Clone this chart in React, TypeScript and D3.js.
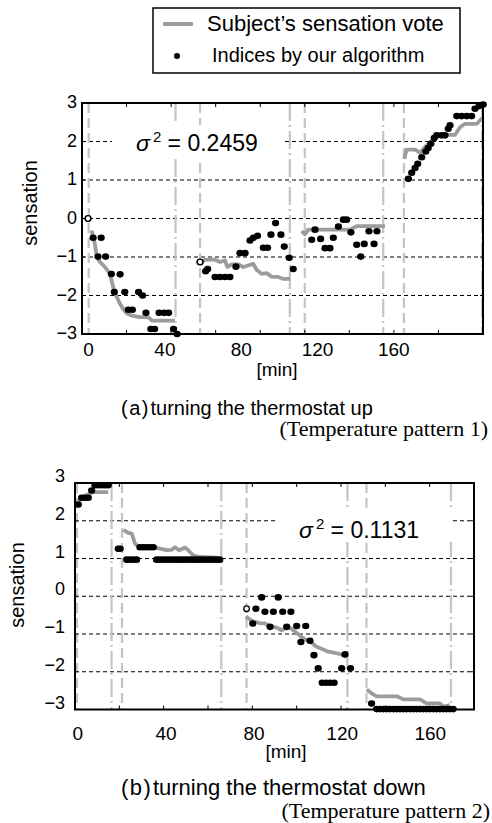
import React from "react";
import * as d3 from "d3";

// ---------- data ----------
const sensationTicks = [-3, -2, -1, 0, 1, 2, 3];
const gridLevels = [-2, -1, 0, 1, 2];
const minuteTicks = [20, 40, 60, 80, 100, 120, 140, 160];
const minuteLabels = [0, 40, 80, 120, 160];

// Chart (a): subject's vote (gray line) per session, [min, sensation]
const aVote1 = [[4.3, -0.31], [5.8, -0.66], [6.6, -1.0], [8.1, -1.13], [10.3, -1.26], [12.6, -1.44], [14.0, -1.78], [15.6, -2.04], [17.1, -2.22], [18.5, -2.35], [20.1, -2.47], [22.3, -2.52], [26.0, -2.56], [29.8, -2.56], [31.3, -2.65], [41.7, -2.65]];
const aVote2 = [[53.7, -1.13], [55.2, -1.07], [59.7, -1.07], [61.9, -1.13], [64.2, -1.09], [65.2, -1.26], [67.2, -1.19], [70.2, -1.19], [72.4, -1.26], [74.6, -1.22], [76.9, -1.18], [78.4, -1.33], [80.7, -1.44], [82.9, -1.42], [85.1, -1.51], [88.1, -1.52], [90.4, -1.57], [93.4, -1.57]];
const aVote3 = [[98.6, -0.33], [100.1, -0.41], [101.6, -0.29], [120.3, -0.29], [123.3, -0.2], [136.0, -0.2]];
const aVote4 = [[144.7, 1.55], [145.7, 1.79], [149.5, 1.79], [151.7, 1.71], [153.9, 1.85], [156.2, 1.98], [158.4, 2.09], [160.7, 2.17], [167.4, 2.17], [169.7, 2.37], [171.9, 2.46], [177.2, 2.46], [179.7, 2.61]];

// Chart (a): indices by our algorithm (dots)
const aIdx1 = [[2.7, 0], [5.0, -0.5], [8.6, -0.5], [7.2, -0.99], [10.6, -0.99], [13.2, -1.44], [17.1, -1.45], [14.5, -1.91], [19.2, -1.91], [25.4, -1.91], [27.2, -2.0], [20.8, -2.37], [22.6, -2.37], [28.7, -2.45], [34.6, -2.45], [36.9, -2.45], [38.9, -2.45], [30.9, -2.87], [32.6, -2.87], [41.1, -2.87], [42.7, -3.0]];
const aIdx2 = [[53.0, -1.13], [55.5, -1.37], [56.4, -1.31], [59.7, -1.52], [61.9, -1.52], [64.2, -1.52], [66.4, -1.52], [69.1, -1.25], [70.9, -0.9], [73.2, -0.9], [75.4, -0.57], [76.9, -0.5], [78.8, -0.45], [81.4, -0.76], [83.3, -0.76], [84.8, -0.42], [86.9, -0.12], [89.3, -0.42], [90.8, -0.73], [93.0, -1.02], [94.8, -1.31]];
const aIdx3 = [[103.1, -0.55], [104.6, -0.29], [107.1, -0.53], [109.1, -0.77], [111.3, -0.77], [112.8, -0.5], [115.1, -0.21], [117.3, -0.03], [118.8, -0.03], [120.7, -0.36], [123.3, -0.68], [125.1, -0.99], [126.7, -0.66], [128.8, -0.33], [132.4, -0.33], [131.1, -0.66]];
const aIdx4 = [[146.5, 1.03], [148.0, 1.19], [149.5, 1.31], [150.7, 1.42], [152.5, 1.59], [154.3, 1.74], [155.4, 1.83], [156.6, 1.94], [158.1, 2.09], [159.2, 2.16], [161.4, 2.16], [162.9, 2.16], [164.4, 2.33], [165.2, 2.42], [168.2, 2.66], [170.4, 2.66], [172.7, 2.66], [174.9, 2.66], [176.4, 2.85], [178.2, 2.92], [180.1, 2.96]];
const aOpen = [[2.7, 0], [53.0, -1.13]];
const aSessionStarts = [3, 53, 100, 144.5];
const aSessionEnds = [42, 93.3, 135.2, 179.6];

// Chart (b)
const bVote1 = [[1.5, 2.49], [3.0, 2.63], [6.8, 2.72], [8.3, 2.76], [15.0, 2.76]];
const bVote2 = [[21.8, 1.76], [24.0, 1.68], [25.6, 1.66], [27.1, 1.39], [28.6, 1.32], [33.1, 1.32], [36.1, 1.29], [38.3, 1.26], [41.4, 1.22], [43.6, 1.23], [45.1, 1.3], [47.0, 1.22], [49.6, 1.29], [51.1, 1.22], [53.4, 1.08], [56.4, 1.04], [63.9, 1.02], [66.2, 0.91]];
const bVote3 = [[77.1, -0.53], [78.9, -0.62], [81.2, -0.68], [83.4, -0.71], [85.7, -0.72], [88.0, -0.79], [91.0, -0.83], [93.2, -0.9], [95.5, -0.83], [97.7, -0.86], [100.0, -0.97], [102.2, -1.08], [104.5, -1.16], [106.8, -1.23], [109.0, -1.34], [112.0, -1.41], [114.3, -1.47], [117.3, -1.5], [119.5, -1.53], [122.2, -1.59]];
const bVote4 = [[131.6, -2.47], [133.8, -2.57], [136.1, -2.65], [145.1, -2.65], [148.1, -2.73], [155.6, -2.73], [158.6, -2.84], [164.6, -2.84], [166.4, -2.93], [169.1, -2.88]];

const bIdx1 = [[1.5, 2.43], [3.0, 2.61], [4.5, 2.61], [6.0, 2.61], [7.5, 2.8], [9.0, 2.94], [10.5, 2.94], [12.0, 2.94], [13.5, 2.94], [15.0, 2.94]];
const bIdx2 = [[20.4, 1.26], [19.5, 1.26], [23.3, 0.97], [24.8, 0.97], [26.3, 0.97], [27.8, 0.97], [29.3, 1.3], [30.8, 1.3], [32.3, 1.3], [33.8, 1.3], [35.3, 1.3], [36.8, 0.97], [38.3, 0.97], [39.8, 0.97], [41.3, 0.97], [42.8, 0.97], [44.3, 0.97], [45.8, 0.97], [47.3, 0.97], [48.8, 0.97], [50.3, 0.97], [51.8, 0.97], [53.3, 0.97], [54.8, 0.97], [56.3, 0.97], [57.8, 0.97], [59.3, 0.97], [60.8, 0.97], [62.3, 0.97], [63.8, 0.97], [65.3, 0.97]];
const bIdx3 = [[81.6, -0.33], [84.2, -0.03], [91.7, -0.03], [80.2, -0.72], [85.7, -0.41], [89.5, -0.41], [93.7, -0.41], [97.4, -0.41], [88.0, -0.81], [95.5, -0.81], [100.0, -0.79], [104.1, -0.79], [101.9, -1.21], [106.0, -1.18], [107.8, -1.56], [109.7, -1.91], [111.5, -2.29], [113.3, -2.29], [115.1, -2.29], [116.9, -2.29], [120.3, -1.91], [121.8, -1.54], [124.3, -1.91]];
const bIdx4 = [[133.8, -2.84], [136.1, -2.99], [137.6, -2.99], [139.1, -2.99], [140.6, -2.99], [142.1, -2.99], [143.6, -2.99], [145.1, -2.99], [146.6, -2.99], [148.1, -2.99], [149.6, -2.99], [151.1, -2.99], [152.6, -2.99], [154.1, -2.99], [155.6, -2.99], [157.1, -2.99], [158.6, -2.99], [160.1, -2.99], [161.6, -2.99], [163.1, -2.99], [164.6, -2.99], [166.1, -2.99], [167.6, -2.99], [169.1, -2.99], [170.6, -2.99]];
const bOpen = [[77.4, -0.33]];
const bSessionStarts = [0.9, 21.2, 77.4, 131.5];
const bSessionEnds = [16.5, 66.0, 122.9, 169.6];

const SANS = "'Liberation Sans', Arial, sans-serif";
const SERIF = "'Liberation Serif', 'Times New Roman', serif";

type Pt = number[];

function Panel(props: {
  x: d3.ScaleLinear<number, number>;
  y: d3.ScaleLinear<number, number>;
  xLabel: d3.ScaleLinear<number, number>;
  votes: Pt[][];
  dots: Pt[][];
  open: Pt[];
  starts: number[];
  ends: number[];
  sigma: string;
  sigmaX: number;
  sigmaY: number;
  box: number[];
  yLabelX: number;
  yLabelDy: number;
  xLabelY: number;
  minY: number;
  minX: number;
  sensX: number;
  sensY: number;
}) {
  const { x, y, xLabel } = props;
  const [x0, x1] = x.range();
  const [yb, yt] = y.range();
  const line = d3
    .line<Pt>()
    .x((d) => x(d[0]))
    .y((d) => y(d[1]));
  return (
    <g>
      {gridLevels.map((g) => (
        <line key={"g" + g} x1={x0} x2={x1} y1={y(g)} y2={y(g)} stroke="#000" strokeWidth={1} strokeDasharray="4,3" />
      ))}
      {props.starts.map((s, i) => (
        <line key={"s" + i} x1={x(s)} x2={x(s)} y1={yt} y2={yb} stroke="#c4c4c4" strokeWidth={2.2} strokeDasharray="10,5" />
      ))}
      {props.ends.map((s, i) => (
        <line key={"e" + i} x1={x(s)} x2={x(s)} y1={yt} y2={yb} stroke="#c4c4c4" strokeWidth={2.2} strokeDasharray="18,4,2,4" />
      ))}
      <rect x={props.box[0]} y={props.box[1]} width={props.box[2]} height={props.box[3]} fill="#fff" />
      <text x={props.sigmaX} y={props.sigmaY} fontFamily={SANS} fontSize={23} fill="#000">
        <tspan fontStyle="italic">σ</tspan>
        <tspan dx={3} dy={-9} fontSize={15}>2</tspan>
        <tspan dy={9}>{" = " + props.sigma}</tspan>
      </text>
      {props.votes.map((v, i) => (
        <path key={"v" + i} d={line(v) || ""} fill="none" stroke="#9c9c9c" strokeWidth={3.8} strokeLinejoin="round" />
      ))}
      {props.dots.map((seg, i) =>
        seg.map((d, j) => (
          <ellipse key={"d" + i + "-" + j} cx={x(d[0])} cy={y(d[1])} rx={3.6} ry={3.3} fill="#000" />
        ))
      )}
      {props.open.map((d, i) => (
        <circle key={"o" + i} cx={x(d[0])} cy={y(d[1])} r={2.8} fill="#fff" stroke="#000" strokeWidth={1.3} />
      ))}
      {minuteTicks.map((t) => (
        <g key={"t" + t}>
          <line x1={x(t)} x2={x(t)} y1={yt} y2={yt + 4} stroke="#000" strokeWidth={1} />
          <line x1={x(t)} x2={x(t)} y1={yb} y2={yb - 4} stroke="#000" strokeWidth={1} />
        </g>
      ))}
      {sensationTicks.map((t) => (
        <g key={"yt" + t}>
          <line x1={x0} x2={x0 + 3} y1={y(t)} y2={y(t)} stroke="#000" strokeWidth={1} />
          <line x1={x1} x2={x1 - 3} y1={y(t)} y2={y(t)} stroke="#000" strokeWidth={1} />
        </g>
      ))}
      <rect x={x0} y={yt} width={x1 - x0} height={yb - yt} fill="none" stroke="#000" strokeWidth={2} />
      {sensationTicks.map((t) => (
        <text key={"yl" + t} x={props.yLabelX} y={y(t) + props.yLabelDy} textAnchor="end" fontFamily={SANS} fontSize={18} fill="#000">
          {t < 0 ? "\u2212" + Math.abs(t) : String(t)}
        </text>
      ))}
      {minuteLabels.map((t) => (
        <text key={"xl" + t} x={xLabel(t)} y={props.xLabelY} textAnchor="middle" fontFamily={SANS} fontSize={19} fill="#000">
          {t}
        </text>
      ))}
      <text x={props.minX} y={props.minY} textAnchor="middle" fontFamily={SANS} fontSize={19} fill="#000">
        [min]
      </text>
      <text
        transform={`translate(${props.sensX},${props.sensY}) rotate(-90)`}
        textAnchor="middle"
        fontFamily={SANS}
        fontSize={20}
        fill="#000"
      >
        sensation
      </text>
    </g>
  );
}

export default function App() {
  const xA = d3.scaleLinear().domain([0, 180]).range([82, 483]);
  const yA = d3.scaleLinear().domain([-3, 3]).range([334, 103]);
  const xALabel = d3.scaleLinear().domain([0, 160]).range([88.6, 393.8]);
  const xB = d3.scaleLinear().domain([0, 180]).range([75, 474]);
  const yB = d3.scaleLinear().domain([-3, 3]).range([709.5, 483]);
  const xBLabel = d3.scaleLinear().domain([0, 160]).range([77.9, 430.3]);

  return (
    <svg width={492} height={823} style={{ position: "absolute", left: 0, top: 0, background: "#fff" }}>
      <rect x={0} y={0} width={492} height={823} fill="#fff" />
      {/* legend */}
      <rect x={153} y={8} width={307} height={65} fill="#fff" stroke="#000" strokeWidth={1.5} />
      <line x1={163} x2={193} y1={24} y2={24} stroke="#9c9c9c" strokeWidth={4} />
      <circle cx={177} cy={56} r={3} fill="#000" />
      <text x={207} y={31} fontFamily={SANS} fontSize={22} fill="#000">
        Subject’s sensation vote
      </text>
      <text x={212} y={62} fontFamily={SANS} fontSize={20} fill="#000">
        Indices by our algorithm
      </text>

      <Panel
        x={xA}
        y={yA}
        xLabel={xALabel}
        votes={[aVote1, aVote2, aVote3, aVote4]}
        dots={[aIdx1, aIdx2, aIdx3, aIdx4]}
        open={aOpen}
        starts={aSessionStarts}
        ends={aSessionEnds}
        sigma="0.2459"
        sigmaX={136}
        sigmaY={151}
        box={[112, 125, 173, 33]}
        yLabelX={77}
        yLabelDy={5}
        xLabelY={356}
        minX={277}
        minY={376}
        sensX={37}
        sensY={203}
      />
      <text x={121} y={415} fontFamily={SANS} fontSize={20} fill="#000">
        <tspan>(</tspan>
        <tspan dx={1.5}>a</tspan>
        <tspan dx={1.5}>)</tspan>
        <tspan dx={2}>turning the thermostat up</tspan>
      </text>
      <text x={488} y={436} textAnchor="end" fontFamily={SERIF} fontSize={22} fill="#000">
        (Temperature pattern 1)
      </text>

      <Panel
        x={xB}
        y={yB}
        xLabel={xBLabel}
        votes={[bVote1, bVote2, bVote3, bVote4]}
        dots={[bIdx1, bIdx2, bIdx3, bIdx4]}
        open={bOpen}
        starts={bSessionStarts}
        ends={bSessionEnds}
        sigma="0.1131"
        sigmaX={299}
        sigmaY={538}
        box={[275, 511, 177, 31]}
        yLabelX={65}
        yLabelDy={-1}
        xLabelY={740}
        minX={286}
        minY={758}
        sensX={24}
        sensY={585}
      />
      <text x={121} y={795} fontFamily={SANS} fontSize={22} fill="#000">
        <tspan>(</tspan>
        <tspan dx={1.5}>b</tspan>
        <tspan dx={1.5}>)</tspan>
        <tspan dx={2}>turning the thermostat down</tspan>
      </text>
      <text x={490} y={818} textAnchor="end" fontFamily={SERIF} fontSize={22} fill="#000">
        (Temperature pattern 2)
      </text>
    </svg>
  );
}
